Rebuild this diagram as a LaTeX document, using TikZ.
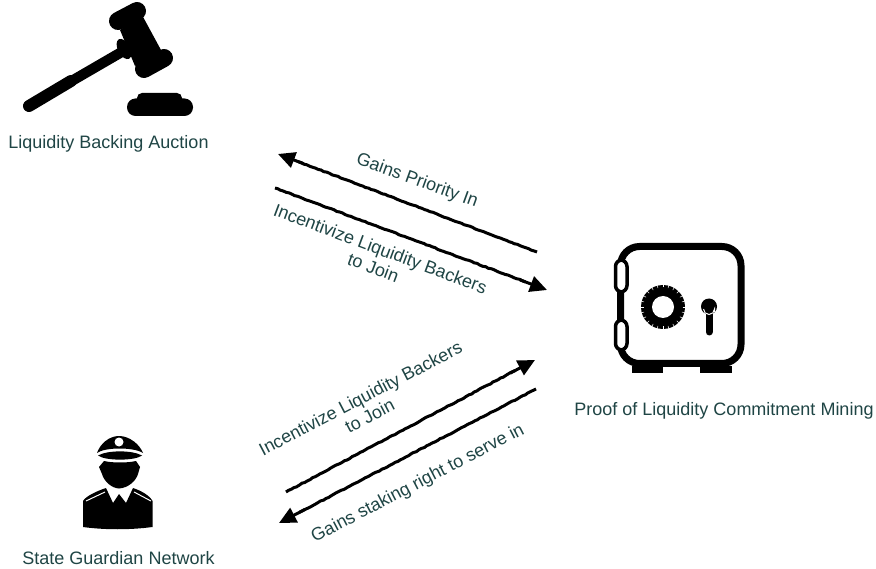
\documentclass[tikz,border=0pt]{standalone}
\usepackage{fontspec}
\setmainfont{Liberation Sans}
\usetikzlibrary{arrows.meta,calc,decorations.pathmorphing}
\definecolor{labelc}{HTML}{1F4545}
\tikzset{
  lbl/.style={text=labelc,font=\fontsize{18}{20}\selectfont,align=center,inner sep=0pt},
  flow/.style={draw=black,line width=3pt,decorate,decoration={random steps,segment length=3pt,amplitude=0.4pt}},
  flowtip/.style={draw=black,line width=3pt,-{Triangle[length=17pt,width=16pt]}},
  gavelbar/.style={draw=black,line cap=round},
  safe/.style={draw=black,line width=7pt}
}
\begin{document}
\begin{tikzpicture}[x=1pt,y=-1pt]
\useasboundingbox (0,0) rectangle (876,569);
\fill[white] (0,0) rectangle (876,569);
% gavel
\draw[gavelbar,line width=18pt] (118,21) -- (137,11);
\draw[gavelbar,line width=18pt] (144,69) -- (164,58);
\fill[black] (120,30) -- (142,15) -- (161,50) -- (135,66) -- cycle;
\draw[gavelbar,line width=12pt] (29,106) -- (71,81);
\fill[black] (70,76) -- (120,47) -- (125,56) -- (75,85) -- cycle;
\fill[black,rotate around={28:(124,49)}] (124,49) ellipse (6 and 11);
\fill[black,rounded corners=8.5pt] (127,98.5) rectangle (193,116);
\fill[black,rounded corners=5pt] (137,93) rectangle (182,105);
\node[lbl] (auction) at (108.5,144) {Liquidity Backing Auction};
% safe
\draw[safe,rounded corners=19pt,fill=white] (620.5,246.5) rectangle (741,363.5);
\fill[black] (632,366) rectangle (663,373.5);
\fill[black] (700,366) rectangle (732,373.5);
\draw[black,line width=3.5pt,fill=white,rounded corners=6.5pt] (615.5,260) rectangle (627,292);
\draw[black,line width=3.5pt,fill=white,rounded corners=6.5pt] (615.5,320) rectangle (627,350);
\fill[black] (663,307) circle (22);
\foreach \a in {0,15,...,345}{\draw[white,line width=0.5pt] (663,307) ++(\a:19.5) -- ++(\a:3);}
\fill[white] (663,307) circle (11);
\fill[black] (709,306.5) circle (8);
\draw[black,line width=7pt,line cap=round] (709,306) -- (709,332);
\draw[white,line width=1pt] (703.5,309) arc[start angle=180,end angle=0,radius=5.5] -- (714.5,312);
\node[lbl] (mining) at (724,411) {Proof of Liquidity Commitment Mining};
% guard
\fill[black] (97,453) .. controls (100,444) and (109,436) .. (119,436) .. controls (130,436) and (140,445) .. (143,453) .. controls (134,447) and (105,447) .. (97,453) -- cycle;
\fill[white] (119,442) circle (4.5);
\fill[black] (98,455.5) .. controls (108,450) and (132,450) .. (142,455.5) .. controls (135,461) and (105,461) .. (98,455.5) -- cycle;
\fill[black] (104,461) .. controls (112,463) and (128,463) .. (136,461)
  -- (140,467) -- (138,474) .. controls (136,481) and (128,488) .. (119,488.5)
  .. controls (111,488) and (104,481) .. (102,474) -- (99,467) -- cycle;
\fill[black] (83,501) .. controls (86,496) and (97,491) .. (106,488) -- (113,503) -- (119,494) -- (126,503) -- (133,488) .. controls (142,491) and (150,496) .. (152.5,501) -- (152.5,527) .. controls (130,530) and (105,530) .. (83,527) -- cycle;
\draw[white,line width=1pt] (86,501) -- (105,492);
\draw[white,line width=1pt] (134,492) -- (151,501);
\node[lbl] (network) at (118.5,558) {State Guardian Network};
% flows
\coordinate (a1) at (537,252); \coordinate (a2) at (278,154);
\coordinate (b1) at (275,188); \coordinate (b2) at (547,290);
\coordinate (c1) at (286,492); \coordinate (c2) at (535,360);
\coordinate (d1) at (536,389); \coordinate (d2) at (279,523);
\foreach \s/\e in {a1/a2,b1/b2,c1/c2,d1/d2}{
  \draw[flow] (\s) -- ($(\s)!0.92!(\e)$);
  \draw[flowtip] ($(\s)!0.9!(\e)$) -- (\e);
}
\node[lbl,rotate=-20] (gp) at (417,181) {Gains Priority In};
\node[lbl,rotate=-20.5] (il) at (377,258) {Incentivize Liquidity Backers\\to Join};
\node[lbl,rotate=27.5] (ij) at (365,407) {Incentivize Liquidity Backers\\to Join};
\node[lbl,rotate=27.5] (gs) at (418,484) {Gains staking right to serve in};
\end{tikzpicture}
\end{document}
